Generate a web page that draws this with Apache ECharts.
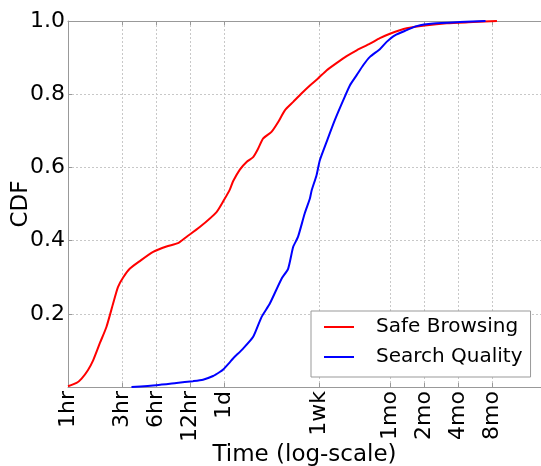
<!DOCTYPE html>
<html>
<head>
<meta charset="utf-8">
<script src="https://cdn.jsdelivr.net/npm/echarts@6/dist/echarts.min.js"></script>
<style>
  html, body { margin: 0; padding: 0; background: #fff; }
  #main { width: 541px; height: 466px; }
</style>
</head>
<body>
<div id="main"></div>
<script>
// x ticks, in hours
var tickHours = [1, 3, 6, 12, 24, 168, 720, 1440, 2880, 5760];
var tickLabels = ['1hr', '3hr', '6hr', '12hr', '1d', '1wk', '1mo', '2mo', '4mo', '8mo'];
var xMinHours = 1;
var xMaxHours = 15500;

// Safe Browsing CDF (time in hours)
var safeHours = [1.0, 1.19, 1.32, 1.5, 1.67, 1.91, 2.19, 2.51, 2.77, 3.08, 3.52, 4.33, 5.68, 7.45, 9.44, 11.2, 14.7, 20.7, 24.0, 27.2, 29.0, 33.3, 38.2, 43.7, 48.3, 53.6, 63.5, 72.8, 83.4, 98.9, 117, 139, 164, 195, 239, 294, 361, 473, 579, 711, 1000, 1452, 2265, 3890, 6310];
var safeCdf = [0.002, 0.011, 0.023, 0.046, 0.073, 0.119, 0.164, 0.228, 0.273, 0.299, 0.323, 0.344, 0.369, 0.384, 0.393, 0.41, 0.437, 0.478, 0.51, 0.54, 0.562, 0.594, 0.615, 0.628, 0.651, 0.679, 0.697, 0.724, 0.756, 0.779, 0.802, 0.824, 0.843, 0.865, 0.885, 0.904, 0.92, 0.938, 0.953, 0.965, 0.98, 0.988, 0.994, 0.997, 1.0];

// Search Quality CDF (time in hours)
var searchHours = [3.65, 6.08, 9.14, 12.8, 15.7, 19.3, 22.1, 23.7, 27.2, 29.0, 35.6, 43.7, 51.8, 61.4, 78.0, 89.1, 98.9, 109, 125, 139, 144, 159, 170, 195, 231, 274, 314, 361, 412, 473, 579, 665, 787, 1000, 1227, 1722, 2965, 5000];
var searchCdf = [0.0, 0.005, 0.011, 0.016, 0.02, 0.03, 0.041, 0.048, 0.068, 0.078, 0.105, 0.137, 0.191, 0.228, 0.296, 0.323, 0.383, 0.41, 0.474, 0.515, 0.537, 0.578, 0.619, 0.669, 0.729, 0.783, 0.824, 0.852, 0.879, 0.902, 0.923, 0.943, 0.961, 0.975, 0.986, 0.993, 0.997, 1.0];

var font = 'DejaVu Sans';
var frameColor = '#999';
var gridColor = '#c8c8c8';

function pairs(hours, cdf) {
  return hours.map(function (h, i) { return [Math.log10(h), cdf[i]]; });
}
var tickLogs = tickHours.map(function (h) { return Math.log10(h); });

function tickName(v) {
  var best = 0;
  for (var i = 1; i < tickLogs.length; i++) {
    if (Math.abs(tickLogs[i] - v) < Math.abs(tickLogs[best] - v)) best = i;
  }
  return tickLabels[best];
}

var chart = echarts.init(document.getElementById('main'), null, { renderer: 'canvas' });

chart.setOption({
  animation: false,
  textStyle: { fontFamily: font },
  grid: { left: 68, top: 21, right: 0, bottom: 79, outerBoundsMode: 'none' },
  legend: {
    orient: 'vertical',
    left: 311,
    top: 311,
    padding: [6, 8, 10, 13],
    itemGap: 10,
    itemWidth: 30,
    itemHeight: 2,
    icon: 'rect',
    borderColor: frameColor,
    borderWidth: 1,
    backgroundColor: '#fff',
    textStyle: { fontFamily: font, fontSize: 20, color: '#000', padding: [0, 0, 0, 17] },
    data: ['Safe Browsing', 'Search Quality']
  },
  xAxis: [{
    type: 'value',
    position: 'bottom',
    min: Math.log10(xMinHours),
    max: Math.log10(xMaxHours),
    name: 'Time (log-scale)',
    nameLocation: 'middle',
    nameGap: 57,
    nameMoveOverlap: false,
    nameTextStyle: { fontFamily: font, fontSize: 23, color: '#000' },
    axisLine: { lineStyle: { color: frameColor, width: 1 } },
    axisTick: { inside: true, length: 4, lineStyle: { color: frameColor }, customValues: tickLogs },
    axisLabel: {
      customValues: tickLogs,
      rotate: 90,
      margin: 4,
      fontFamily: font,
      fontSize: 22,
      color: '#000',
      formatter: function (v) { return tickName(v); }
    },
    splitLine: { show: true, lineStyle: { color: gridColor, type: [2, 2], width: 1 } }
  }, {
    type: 'value',
    position: 'top',
    min: Math.log10(xMinHours),
    max: Math.log10(xMaxHours),
    axisLine: { lineStyle: { color: frameColor, width: 1 } },
    axisTick: { inside: true, length: 4, lineStyle: { color: frameColor }, customValues: tickLogs },
    axisLabel: { show: false },
    splitLine: { show: false }
  }],
  yAxis: {
    type: 'value',
    min: 0,
    max: 1,
    interval: 0.2,
    name: 'CDF',
    nameLocation: 'middle',
    nameGap: 35,
    nameMoveOverlap: false,
    nameTextStyle: { fontFamily: font, fontSize: 23, color: '#000' },
    axisLine: { show: true, lineStyle: { color: frameColor, width: 1 } },
    axisTick: { show: true, inside: true, length: 4, lineStyle: { color: frameColor } },
    axisLabel: {
      margin: 3,
      fontFamily: font,
      fontSize: 22,
      color: '#000',
      formatter: function (v) { return v === 0 ? '' : v.toFixed(1); }
    },
    splitLine: { show: true, lineStyle: { color: gridColor, type: [2, 2], width: 1 } }
  },
  series: [{
    name: 'Safe Browsing',
    type: 'line',
    showSymbol: false,
    smooth: 0.2,
    color: '#ff0000',
    lineStyle: { width: 2, color: '#ff0000' },
    data: pairs(safeHours, safeCdf)
  }, {
    name: 'Search Quality',
    type: 'line',
    showSymbol: false,
    smooth: 0.2,
    color: '#0000ff',
    lineStyle: { width: 2, color: '#0000ff' },
    data: pairs(searchHours, searchCdf)
  }]
});
</script>
</body>
</html>
